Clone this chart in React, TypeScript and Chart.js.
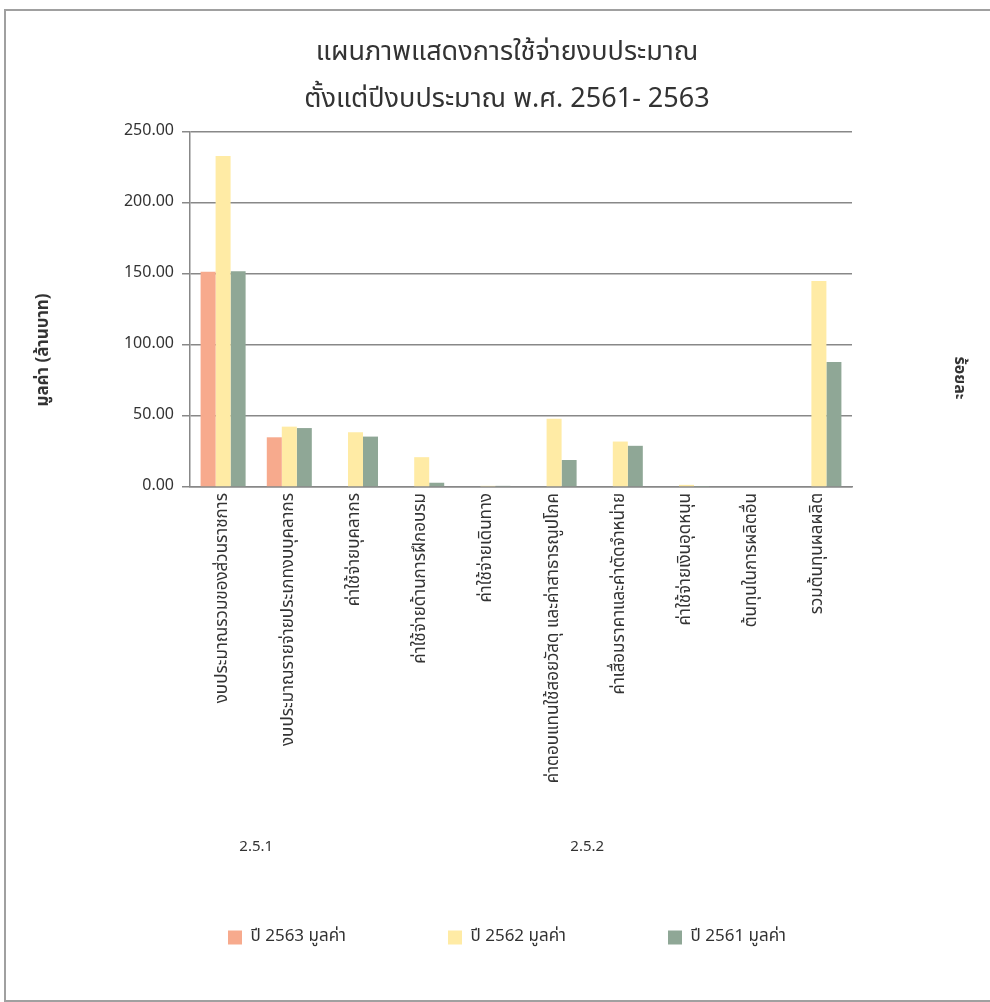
import React, { useEffect, useRef } from 'react';
import { Chart, registerables } from 'chart.js';

Chart.register(...registerables);

const categories = [
  'งบประมาณรวมของส่วนราชการ',
  'งบประมาณรายจ่ายประเภทงบบุคลากร',
  'ค่าใช้จ่ายบุคลากร',
  'ค่าใช้จ่ายด้านการฝึกอบรม',
  'ค่าใช้จ่ายเดินทาง',
  'ค่าตอบแทนใช้สอยวัสดุ และค่าสาธารณูปโภค',
  'ค่าเสื่อมราคาและค่าตัดจำหน่าย',
  'ค่าใช้จ่ายเงินอุดหนุน',
  'ต้นทุนในการผลิตอื่น',
  'รวมต้นทุนผลผลิต',
];
const series2563 = [151.5, 35, null, null, null, null, null, null, null, null];
const series2562 = [233, 42.5, 38.5, 21, 0.8, 48, 32, 1.5, 0, 145];
const series2561 = [152, 41.5, 35.5, 3, 0.8, 19, 29, 0.3, 0, 88];
const seriesNames = ['ปี 2563 มูลค่า', 'ปี 2562 มูลค่า', 'ปี 2561 มูลค่า'];
const seriesColors = ['#F7AA8D', '#FFEBA5', '#8FA796'];
const groupLabels = ['2.5.1', '2.5.2'];
const groupFirst = [0, 2];
const groupLast = [1, 9];
const titleLines = ['แผนภาพแสดงการใช้จ่ายงบประมาณ', 'ตั้งแต่ปีงบประมาณ พ.ศ. 2561- 2563'];
const yTitle = 'มูลค่า (ล้านบาท)';
const y2Title = 'ร้อยละ';
const yMin = 0;
const yMax = 250;
const yStep = 50;

const FONT = "Tahoma, 'Noto Sans Thai', 'Leelawadee UI', 'DejaVu Sans', sans-serif";

const extrasPlugin = {
  id: 'extras',
  afterDraw(chart: any) {
    const { ctx, chartArea } = chart;
    const xs = chart.scales.x;
    ctx.save();
    ctx.fillStyle = '#333';
    ctx.textAlign = 'center';
    ctx.textBaseline = 'middle';
    ctx.font = `15px ${FONT}`;
    groupLabels.forEach((g, i) => {
      const x = (xs.getPixelForValue(groupFirst[i]) + xs.getPixelForValue(groupLast[i])) / 2;
      ctx.fillText(g, x, chartArea.bottom + 361);
    });
    ctx.font = `bold 17px ${FONT}`;
    ctx.translate(chartArea.left - 145, chartArea.bottom - 137);
    ctx.rotate(-Math.PI / 2);
    ctx.fillText(yTitle, 0, 0);
    ctx.restore();
    ctx.save();
    ctx.fillStyle = '#333';
    ctx.textAlign = 'center';
    ctx.textBaseline = 'middle';
    ctx.font = `bold 16px ${FONT}`;
    ctx.translate(chartArea.right + 106, chartArea.bottom - 109);
    ctx.rotate(Math.PI / 2);
    ctx.fillText(y2Title, 0, 0);
    ctx.restore();
  },
};

export default function App() {
  const ref = useRef<HTMLCanvasElement>(null);
  useEffect(() => {
    if (!ref.current) return;
    const legendPad = 102;
    const legendFont = 17;
    const padBottom = 46;
    const chart = new Chart(ref.current, {
      type: 'bar',
      data: {
        labels: categories,
        datasets: [series2563, series2562, series2561].map((d, i) => ({
          label: seriesNames[i],
          data: d,
          backgroundColor: seriesColors[i],
          borderWidth: 0,
          barPercentage: 1,
          categoryPercentage: 0.68,
        })),
      },
      options: {
        responsive: false,
        animation: false,
        layout: { padding: { left: 32, right: 8, top: 10, bottom: padBottom } },
        plugins: {
          title: {
            display: true,
            text: titleLines,
            color: '#333',
            font: { family: FONT, size: 27, weight: 'normal', lineHeight: 1.74 },
            padding: { top: 21, bottom: 7 },
          },
          legend: {
            position: 'bottom',
            labels: {
              color: '#333',
              font: { family: FONT, size: legendFont },
              boxWidth: 14,
              boxHeight: 14,
              padding: legendPad,
            },
          },
          tooltip: { enabled: false },
        },
        scales: {
          x: {
            grid: { display: false, drawTicks: false },
            border: { display: true, color: '#888', width: 1.5 },
            ticks: {
              autoSkip: false,
              maxRotation: 90,
              minRotation: 90,
              padding: 6,
              color: '#333',
              font: { family: FONT, size: 17 },
            },
            afterFit: (s: any) => {
              s.height = 1002 - padBottom - (legendFont + legendPad + 10) - 487;
            },
          },
          y: {
            min: yMin,
            max: yMax,
            ticks: {
              stepSize: yStep,
              padding: 8,
              color: '#333',
              font: { family: FONT, size: 16 },
              callback: (v: any) => Number(v).toFixed(2),
            },
            grid: { color: '#888', lineWidth: 1.5, tickLength: 8, drawTicks: true },
            border: { display: true, color: '#888', width: 1.5 },
            afterFit: (s: any) => {
              s.width = 158;
            },
          },
          y1: {
            position: 'right',
            display: true,
            ticks: { display: false },
            grid: { display: false, drawTicks: false },
            border: { display: false },
            afterFit: (s: any) => {
              s.width = 130;
            },
          },
        },
      },
      plugins: [extrasPlugin],
    });
    return () => chart.destroy();
  }, []);

  return (
    <div style={{ position: 'absolute', left: 0, top: 0, width: 990, height: 1002, overflow: 'hidden', background: '#fff' }}>
      <div style={{ position: 'absolute', left: 4, top: 9, width: 1100, height: 989, border: '2px solid #a0a0a0', borderRight: 'none' }} />
      <canvas ref={ref} width={990} height={1002} style={{ position: 'absolute', left: 0, top: 0 }} />
    </div>
  );
}
